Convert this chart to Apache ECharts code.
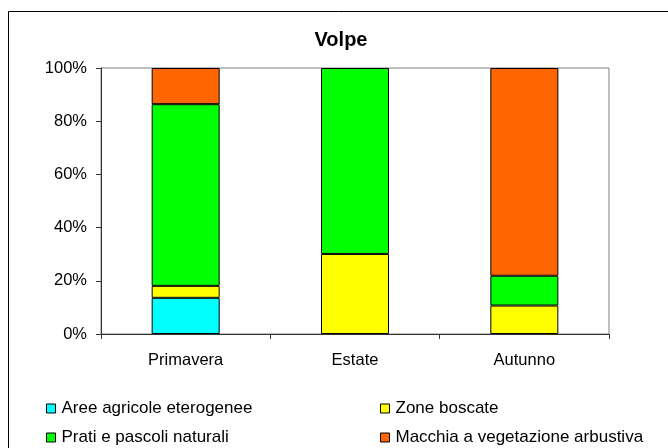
<!DOCTYPE html>
<html>
<head>
<meta charset="utf-8">
<script src="https://cdn.jsdelivr.net/npm/echarts@6/dist/echarts.min.js"></script>
<style>
html, body { margin: 0; padding: 0; background: #fff; overflow: hidden; }
#chart { width: 668px; height: 448px; }
</style>
</head>
<body>
<div id="chart"></div>
<script>
// dati (percentuali)
var stagioni = ['Primavera', 'Estate', 'Autunno'];
var aree = [13.6, null, null];
var zone = [4.5, 30.1, 10.7];
var prati = [68.3, 69.9, 11.2];
var macchia = [13.6, null, 78.1];
var yTicks = [0, 20, 40, 60, 80, 100];

var nomi = ['Aree agricole eterogenee', 'Zone boscate', 'Prati e pascoli naturali', 'Macchia a vegetazione arbustiva'];
var colori = ['#00FFFF', '#FFFF00', '#00FF00', '#FF6600'];
var valori = [aree, zone, prati, macchia];

var font = 'Liberation Sans, Arial, sans-serif';

function serie(i) {
	return {
		name: nomi[i],
		type: 'bar',
		stack: 'tot',
		barWidth: 68,
		data: valori[i],
		itemStyle: { color: colori[i], borderColor: '#000', borderWidth: 1 },
		emphasis: { disabled: true }
	};
}

// una legenda per voce, per avere due colonne come in Excel
var posLegenda = [[46, 400], [380, 400], [46, 429], [380, 429]];
var legende = nomi.map(function (n, i) {
	return {
		data: [n],
		left: posLegenda[i][0],
		top: posLegenda[i][1],
		icon: 'rect',
		itemWidth: 9,
		itemHeight: 9,
		itemGap: 0,
		padding: 0,
		selectedMode: false,
		itemStyle: { borderColor: '#000', borderWidth: 1 },
		textStyle: { fontFamily: font, fontSize: 17, color: '#000', padding: [0, 0, 0, 1] }
	};
});

var chart = echarts.init(document.getElementById('chart'));
chart.setOption({
	animation: false,
	backgroundColor: '#fff',
	title: {
		text: 'Volpe',
		left: 336,
		textAlign: 'center',
		top: 25,
		textStyle: { fontFamily: font, fontSize: 20, fontWeight: 'bold', color: '#000' }
	},
	graphic: [{
		type: 'rect',
		shape: { x: 8.5, y: 11.5, width: 700, height: 500 },
		style: { fill: null, stroke: '#000', lineWidth: 1 },
		silent: true
	}],
	legend: legende,
	grid: {
		left: 101, right: 59, top: 68, bottom: 114,
		show: true, borderColor: '#808080', borderWidth: 1, backgroundColor: '#fff'
	},
	xAxis: {
		type: 'category',
		data: stagioni,
		axisLine: { lineStyle: { color: '#333', width: 1 } },
		axisTick: { show: true, length: 5, alignWithLabel: false, lineStyle: { color: '#333' } },
		axisLabel: { fontFamily: font, fontSize: 16.5, color: '#000', margin: 18 }
	},
	yAxis: {
		type: 'value',
		min: yTicks[0],
		max: yTicks[yTicks.length - 1],
		interval: yTicks[1] - yTicks[0],
		axisLine: { show: true, lineStyle: { color: '#333', width: 1 } },
		axisTick: { show: true, length: 5, lineStyle: { color: '#333' } },
		splitLine: { show: false },
		axisLabel: { fontFamily: font, fontSize: 16.5, color: '#000', margin: 14, formatter: '{value}%' }
	},
	series: [serie(0), serie(1), serie(2), serie(3)]
});
</script>
</body>
</html>
